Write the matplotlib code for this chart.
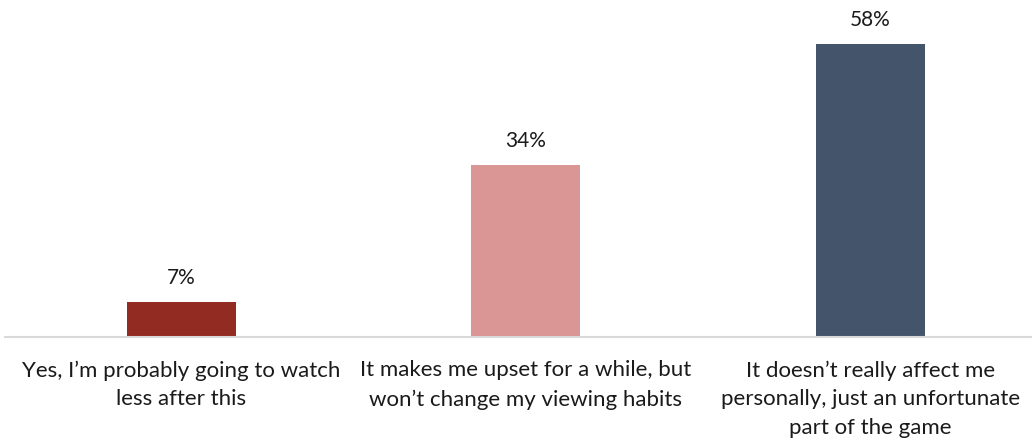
import matplotlib.pyplot as plt

plt.rcParams['font.family'] = ['Lato', 'DejaVu Sans']

categories = [
    "Yes, I\u2019m probably going to watch\nless after this",
    "It makes me upset for a while, but\nwon\u2019t change my viewing habits",
    "It doesn\u2019t really affect me\npersonally, just an unfortunate\npart of the game",
]
values = [7, 34, 58]
colors = ['#922B21', '#DA9694', '#44546A']

W, H = 1032, 441
fig = plt.figure(figsize=(W / 100, H / 100), dpi=100)
base_y = 337
ax = fig.add_axes([5 / W, (H - base_y) / H, 1 - 5 / W, base_y / H])

x = range(len(values))
bars = ax.bar(x, values, width=0.316, color=colors, zorder=2)
ax.set_xlim(-0.512, 2.469)
ax.set_ylim(0, 66.6)

for b, v in zip(bars, values):
    ax.annotate(f"{v}%", (b.get_x() + b.get_width() / 2, v),
                xytext=(0, 10), textcoords='offset points',
                ha='center', va='bottom', fontsize=15, color='#1a1a1a')

for i, lab in enumerate(categories):
    ax.text(i, -4.6, lab, ha='center', va='top', fontsize=16,
            color='#1a1a1a', linespacing=1.55)

for s in ['top', 'right', 'left']:
    ax.spines[s].set_visible(False)
ax.spines['bottom'].set_color('#d9d9d9')
ax.spines['bottom'].set_linewidth(1.5)
ax.set_xticks([])
ax.set_yticks([])

fig.savefig('out.png', dpi=100)
